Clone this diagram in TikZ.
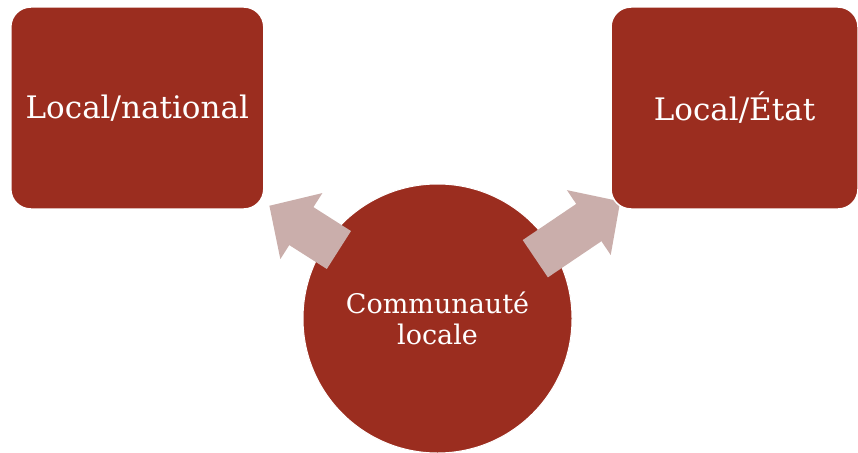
\documentclass[tikz,border=0pt]{standalone}
\usepackage{fontspec}
\setmainfont{DejaVu Serif}
\usetikzlibrary{arrows.meta}
\definecolor{rouille}{RGB}{155,45,31}
\definecolor{rosepale}{RGB}{202,174,171}
\tikzset{
	bloc/.style={rectangle, rounded corners=20pt, fill=rouille, draw=white, line width=1.5pt, text=white, font=\fontsize{31}{37}\selectfont},
	rond/.style={circle, fill=rouille, draw=white, line width=1pt, text=white, align=center, inner sep=0pt, minimum size=269pt, font=\fontsize{27}{31}\selectfont},
	fleche/.style={rosepale, line width=45pt, -{Triangle[length=38pt, width=76pt]}}
}
\begin{document}
\begin{tikzpicture}[x=1pt, y=-1pt]
	\useasboundingbox (0,0) rectangle (858,452);
	\node[rond] (communaute) at (437.5,318.5) {Communauté\\locale};
	\coordinate (depart gauche) at (338.9,250);
	\coordinate (pointe gauche) at (269.3,205.7);
	\coordinate (depart droite) at (535.3,258.7);
	\coordinate (pointe droite) at (620.3,201.3);
	\draw[fleche] (depart gauche) -- (pointe gauche);
	\draw[fleche] (depart droite) -- (pointe droite);
	\node[bloc, minimum width=253pt, minimum height=202pt] (national) at (137.3,108) {Local/national};
	\node[bloc, minimum width=247pt, minimum height=202pt] (etat) at (734.5,108) {Local/État};
\end{tikzpicture}
\end{document}
